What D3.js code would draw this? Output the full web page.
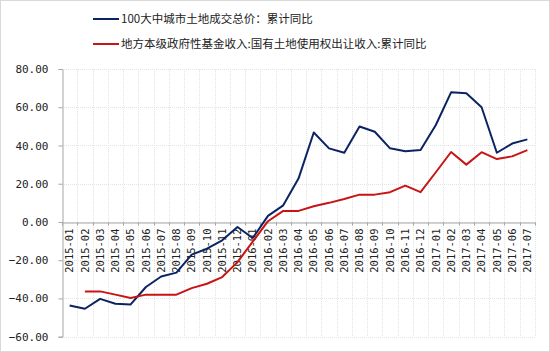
<!DOCTYPE html>
<html>
<head>
<meta charset="utf-8" />
<title>土地成交总价与土地出让收入</title>
<script src="https://cdn.jsdelivr.net/npm/d3@7"></script>
<style>
  body { margin: 0; background: #fff; }
  svg { display: block; }
</style>
</head>
<body>
<script>
    // 月份
    var months = ['2015-01','2015-02','2015-03','2015-04','2015-05','2015-06','2015-07','2015-08','2015-09','2015-10','2015-11','2015-12',
                  '2016-01','2016-02','2016-03','2016-04','2016-05','2016-06','2016-07','2016-08','2016-09','2016-10','2016-11','2016-12',
                  '2017-01','2017-02','2017-03','2017-04','2017-05','2017-06','2017-07'];
    // 100大中城市土地成交总价:累计同比
    var landDeal = [-43.7,-45.4,-40.2,-42.8,-43.1,-34.0,-28.5,-26.5,-17.1,-14.0,-9.6,-2.6,
                    -8.4,3.2,8.7,22.7,46.8,38.5,36.2,49.9,47.2,38.5,37.0,37.6,
                    50.7,67.8,67.3,60.0,36.2,41.0,43.2];
    // 地方本级政府性基金收入:国有土地使用权出让收入:累计同比
    var landFund = [null,-36.3,-36.3,-38.0,-39.8,-38.0,-38.0,-38.0,-34.6,-32.3,-28.8,-21.0,
                    -10.3,0.4,5.8,5.8,8.2,10.0,12.0,14.3,14.3,15.6,19.0,15.6,
                    26.0,36.6,30.0,36.5,32.9,34.3,37.6];
    var yTicks = [80,60,40,20,0,-20,-40,-60];
    var seriesNames = ['100大中城市土地成交总价：累计同比','地方本级政府性基金收入:国有土地使用权出让收入:累计同比'];
    var seriesColors = ['#0b2461','#c81414'];

    var width = 550, height = 352;
    var svg = d3.select('body').append('svg').attr('width',width).attr('height',height);

    svg.append('rect').attr('x',0.5).attr('y',0.5).attr('width',width-1).attr('height',height-1)
        .attr('fill','#fff').attr('stroke','#d9d9d9');

    var x = d3.scaleBand().domain(months).range([62,535]);
    var y = d3.scaleLinear().domain([-60,80]).range([336.7,69]);

    // 网格线
    var grid = svg.append('g');
    grid.selectAll('line.h').data(yTicks).enter().append('line')
        .attr('x1',62).attr('x2',535)
        .attr('y1',function(d){ return Math.round(y(d))+0.5; })
        .attr('y2',function(d){ return Math.round(y(d))+0.5; })
        .attr('stroke','#e4e4e4').attr('stroke-dasharray','1,1');
    grid.selectAll('line.v').data(months.slice(1).concat(['end'])).enter().append('line')
        .attr('x1',function(d,i){ return Math.round(62 + x.step()*(i+1))+0.5; })
        .attr('x2',function(d,i){ return Math.round(62 + x.step()*(i+1))+0.5; })
        .attr('y1',69).attr('y2',336.7)
        .attr('stroke','#e4e4e4').attr('stroke-dasharray','1,1');

    // y轴
    var yAxis = d3.axisLeft(y).tickValues(yTicks).tickSize(4).tickPadding(10)
        .tickFormat(function(d){ return d3.format('.2f')(d); });
    var gy = svg.append('g').attr('transform','translate(62.5,0)').call(yAxis);
    gy.select('.domain').attr('stroke','#a6a6a6');
    gy.selectAll('.tick line').attr('stroke','#a6a6a6');
    gy.selectAll('.tick text').attr('font-family','DejaVu Sans Mono, monospace').attr('font-size','11px').attr('fill','#222');

    // x轴 (0 线)
    var xAxis = d3.axisBottom(x).tickSize(0).tickPadding(0);
    var gx = svg.append('g').attr('transform','translate(0,' + (Math.round(y(0))+0.5) + ')').call(xAxis);
    gx.select('.domain').attr('stroke','#a6a6a6');
    gx.selectAll('.tick text')
        .attr('transform','rotate(-90)')
        .attr('x',-6).attr('y',0).attr('dy','0.35em')
        .attr('text-anchor','end')
        .attr('font-family','DejaVu Sans Mono, monospace').attr('font-size','10.5px').attr('fill','#222');
    gx.selectAll('line.tk').data(months.concat(['end'])).enter().append('line')
        .attr('x1',function(d,i){ return Math.round(62 + x.step()*i)+0.5; })
        .attr('x2',function(d,i){ return Math.round(62 + x.step()*i)+0.5; })
        .attr('y1',0).attr('y2',3).attr('stroke','#a6a6a6');

    // 折线
    var line = d3.line()
        .defined(function(d){ return d !== null; })
        .x(function(d,i){ return x(months[i]) + x.bandwidth()/2; })
        .y(function(d){ return y(d); });
    [landDeal, landFund].forEach(function(s,k){
        svg.append('path').datum(s).attr('d',line)
            .attr('fill','none').attr('stroke',seriesColors[k]).attr('stroke-width',2)
            .attr('stroke-linejoin','round');
    });

    // 图例
    var legend = svg.selectAll('g.legend').data(seriesNames).enter().append('g')
        .attr('transform',function(d,i){ return 'translate(93,' + (19 + i*25) + ')'; });
    legend.append('line').attr('x1',0).attr('x2',26).attr('y1',0).attr('y2',0)
        .attr('stroke',function(d,i){ return seriesColors[i]; }).attr('stroke-width',2);
    legend.append('text').attr('x',28).attr('y',0).attr('dy','0.35em')
        .attr('font-family','Noto Sans CJK SC, sans-serif').attr('font-size','11.5px').attr('fill','#222')
        .text(function(d){ return d; });
</script>
</body>
</html>
